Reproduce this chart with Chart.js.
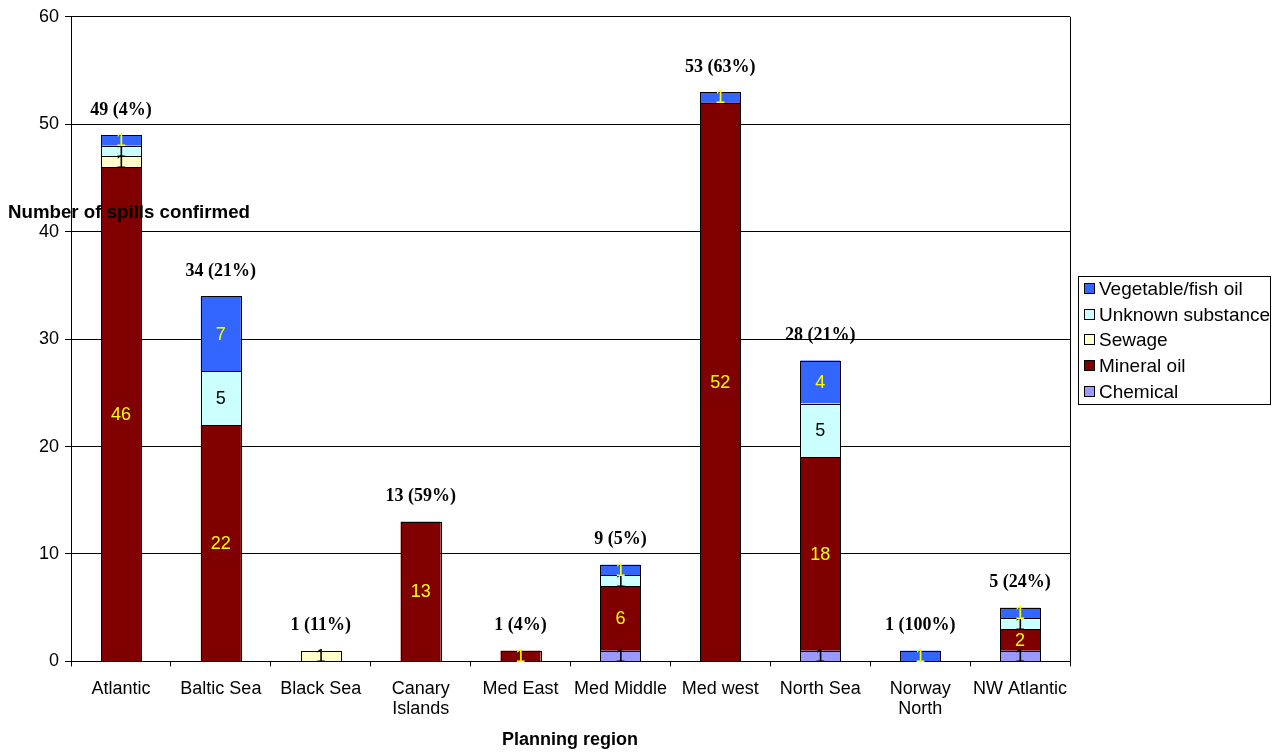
<!DOCTYPE html>
<html>
<head>
<meta charset="utf-8">
<script src="https://cdn.jsdelivr.net/npm/chart.js@4"></script>
<style>
  body { margin: 0; background: #fff; }
  #wrap { width: 1282px; height: 752px; }
</style>
</head>
<body>
<div id="wrap"><canvas id="spills" width="1282" height="752"></canvas></div>
<script>
// regioni
const regioni = ["Atlantic", "Baltic Sea", "Black Sea", ["Canary", "Islands"], "Med East",
  "Med Middle", "Med west", "North Sea", ["Norway", "North"], "NW Atlantic"];

// valori per tipo di sostanza
const chemical = [0, 0, 0, 0, 0, 1, 0, 1, 0, 1];
const mineralOil = [46, 22, 0, 13, 1, 6, 52, 18, 0, 2];
const sewage = [1, 0, 1, 0, 0, 0, 0, 0, 0, 0];
const unknown = [1, 5, 0, 0, 0, 1, 0, 5, 0, 1];
const vegetable = [1, 7, 0, 0, 0, 1, 1, 4, 1, 1];

// percentuali sopra le colonne
const percentuali = ["4%", "21%", "11%", "59%", "4%", "5%", "63%", "21%", "100%", "24%"];

const serie = [
  { label: "Chemical", data: chemical, color: "#9999FF", text: "#000000" },
  { label: "Mineral oil", data: mineralOil, color: "#800000", text: "#FFFF00" },
  { label: "Sewage", data: sewage, color: "#FFFFCC", text: "#000000" },
  { label: "Unknown substance", data: unknown, color: "#CCFFFF", text: "#000000" },
  { label: "Vegetable/fish oil", data: vegetable, color: "#3366FF", text: "#FFFF00" },
];

const SANS = "'Liberation Sans', Arial, sans-serif";

// etichette: contorni, valori nei segmenti, totali, titoli assi, legenda
const etichette = {
  id: "etichette",
  afterDatasetsDraw(chart) {
    const ctx = chart.ctx;
    ctx.save();
    // contorni neri netti
    ctx.strokeStyle = "#000";
    ctx.lineWidth = 1;
    chart.data.datasets.forEach((ds, i) => {
      chart.getDatasetMeta(i).data.forEach((bar, j) => {
        if (!ds.data[j]) return;
        const x0 = Math.round(bar.x - bar.width / 2), x1 = Math.round(bar.x + bar.width / 2);
        const y0 = Math.round(bar.y), y1 = Math.round(bar.base);
        ctx.strokeRect(x0 + 0.5, y0 + 0.5, x1 - x0, y1 - y0);
      });
    });

    ctx.textAlign = "center";
    ctx.textBaseline = "middle";
    ctx.font = "18px " + SANS;
    chart.data.datasets.forEach((ds, i) => {
      const meta = chart.getDatasetMeta(i);
      meta.data.forEach((bar, j) => {
        const v = ds.data[j];
        if (!v) return;
        ctx.fillStyle = serie[i].text;
        ctx.fillText(String(v), bar.x, (bar.y + bar.base) / 2 + 1);
      });
    });

    // totali
    ctx.font = "bold 18px 'Liberation Serif', 'Times New Roman', serif";
    ctx.fillStyle = "#000";
    const yScale = chart.scales.y;
    regioni.forEach((r, j) => {
      const tot = serie.reduce((s, d) => s + d.data[j], 0);
      const x = chart.getDatasetMeta(0).data[j].x;
      ctx.fillText(tot + " (" + percentuali[j] + ")", x, yScale.getPixelForValue(tot) - 25);
    });

    // titolo asse x
    ctx.font = "bold 18px " + SANS;
    ctx.fillText("Planning region", 570, 740);

    // titolo asse y
    ctx.textAlign = "left";
    ctx.font = "bold 18.7px " + SANS;
    ctx.fillText("Number of spills confirmed", 8, 213);

    // legenda
    const lx = 1078, ly = 276, lw = 192, lh = 128;
    ctx.fillStyle = "#fff";
    ctx.fillRect(lx, ly, lw, lh);
    ctx.strokeStyle = "#000";
    ctx.lineWidth = 1;
    ctx.strokeRect(lx + 0.5, ly + 0.5, lw, lh);
    ctx.font = "19px " + SANS;
    const rev = serie.slice().reverse();
    rev.forEach((s, k) => {
      const cy = Math.round(ly + 13 + k * 25.7);
      ctx.fillStyle = s.color;
      ctx.fillRect(lx + 6, cy - 6, 11, 11);
      ctx.strokeRect(lx + 6.5, cy - 5.5, 10, 10);
      ctx.fillStyle = "#000";
      ctx.fillText(s.label, lx + 21, cy + 1);
    });
    ctx.restore();
  }
};

new Chart(document.getElementById("spills"), {
  type: "bar",
  data: {
    labels: regioni,
    datasets: serie.map(s => ({
      label: s.label,
      data: s.data,
      backgroundColor: s.color,
      borderWidth: 0,
      barPercentage: 0.4,
      categoryPercentage: 1,
    })),
  },
  options: {
    responsive: false,
    animation: false,
    layout: { padding: { left: 33, right: 212, top: 15, bottom: 20 } },
    plugins: { legend: { display: false }, tooltip: { enabled: false } },
    scales: {
      x: {
        stacked: true,
        grid: { drawOnChartArea: false, color: "#000", tickLength: 5, offset: true },
        border: { color: "#000" },
        ticks: { color: "#000", padding: 13, font: { size: 18, family: SANS, lineHeight: 1.1 }, maxRotation: 0, autoSkip: false },
      },
      y: {
        stacked: true,
        min: 0,
        max: 60,
        ticks: { stepSize: 10, color: "#000", padding: 6, font: { size: 18, family: SANS } },
        grid: { color: "#000", tickLength: 6 },
        border: { color: "#000" },
      },
    },
  },
  plugins: [etichette, {
    id: "bordo",
    afterDraw(chart) {
      const a = chart.chartArea, ctx = chart.ctx;
      ctx.save();
      ctx.strokeStyle = "#000";
      ctx.beginPath();
      ctx.moveTo(Math.round(a.right) + 0.5, a.top);
      ctx.lineTo(Math.round(a.right) + 0.5, a.bottom);
      ctx.stroke();
      ctx.restore();
    }
  }],
});
</script>
</body>
</html>
